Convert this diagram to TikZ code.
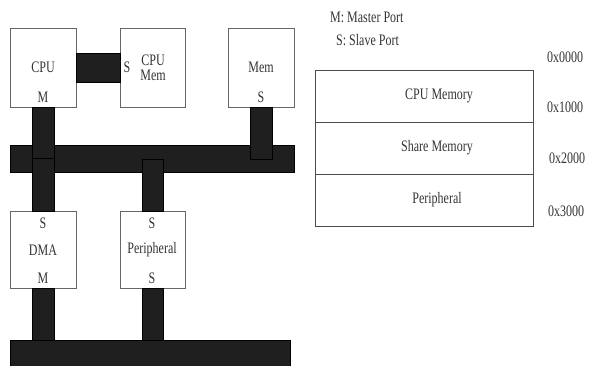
\documentclass[tikz,border=0pt]{standalone}
\usepackage{fontspec}
\setmainfont[FakeStretch=0.75]{Liberation Serif}
\usetikzlibrary{calc}

\tikzset{
  unit/.style={draw=black!60, fill=white, thin, minimum width=66pt,
    minimum height=79pt, inner sep=0pt, text=black!80},
  bus/.style={draw=black, fill=black!88, thin, inner sep=0pt},
  wire/.style={draw=black, fill=black!88, thin},
  region/.style={draw=black!70, thin, minimum width=218pt,
    minimum height=52pt, inner sep=0pt},
  txt/.style={text=black!80, inner sep=0pt}
}

\begin{document}
\begin{tikzpicture}[x=1pt, y=-1pt, font=\fontsize{16}{18}\selectfont]
  \useasboundingbox (0,0) rectangle (590,365);

  % ---- the two buses ----
  \node[bus, minimum width=284pt, minimum height=27pt] (topbus) at (152,158.5) {};
  \node[bus, minimum width=280pt, minimum height=27pt] (botbus) at (150,353.5) {};

  % ---- blocks ----
  \node[unit] (cpu)    at (43,67.5)    {};
  \node[unit, minimum width=65pt] (cpumem) at (152.5,67.5) {};
  \node[unit] (mem)    at (261,67.5)   {};
  \node[unit, minimum height=77pt] (dma)    at (43,249.5)   {};
  \node[unit, minimum width=65pt, minimum height=77pt] (periph) at (152.5,249.5) {};

  % ---- port links ----
  \draw[wire] ($(cpu.east)+(0,-14.5)$) rectangle ($(cpumem.west)+(0,14.5)$);
  % cpu down to the bus, bus down to the dma
  \draw[wire] ($(cpu.south)+(-11,0)$) rectangle ($(cpu.south |- topbus.center)+(11,0)$);
  \draw[wire] ($(dma.north |- topbus.center)+(-11,0)$) rectangle ($(dma.north)+(11,0)$);
  \draw[wire] ($(mem.south)+(-11,0)$) rectangle ($(mem.south |- topbus.center)+(11,0.5)$);
  \draw[wire] ($(periph.north |- topbus.center)+(-10.5,0.5)$) rectangle ($(periph.north)+(10.5,0)$);
  % lower links to the second bus
  \draw[wire] ($(dma.south)+(-11,0)$) rectangle ($(dma.south |- botbus.north)+(11,0)$);
  \draw[wire] ($(periph.south)+(-10.5,0)$) rectangle ($(periph.south |- botbus.north)+(10.5,0)$);

  % ---- block texts ----
  \node[txt] (cpuname) at (43,67) {CPU};
  \node[txt] (cpuport) at (43,97) {M};
  \node[txt] (cpumemport) at (127,67) {S};
  \node[txt, align=center] (cpumemname) at (153,67.5) {CPU\\[-3pt]Mem};
  \node[txt] (memname) at (261,67) {Mem};
  \node[txt] (memport) at (261,97) {S};
  \node[txt] (dmatop) at (43,223) {S};
  \node[txt] (dmaname) at (43,250) {DMA};
  \node[txt] (dmabot) at (43,278) {M};
  \node[txt] (periphtop) at (152,223) {S};
  \node[txt] (periphname) at (152,250) {Peripheral};
  \node[txt] (periphbot) at (152,278) {S};

  % ---- legend ----
  \node[txt, anchor=west] (legm) at (330,17) {M: Master Port};
  \node[txt, anchor=west] (legs) at (336,40) {S: Slave Port};

  % ---- memory map ----
  \node[region, label={[txt, xshift=15pt]center:CPU Memory}] (map1) at (424,96) {};
  \node[region, label={[txt, xshift=13pt]center:Share Memory}] (map2) at (424,148) {};
  \node[region, label={[txt, xshift=13pt]center:Peripheral}] (map3) at (424,200) {};
  \node[txt] (addr0) at (565,57)  {0x0000};
  \node[txt] (addr1) at (565,107) {0x1000};
  \node[txt] (addr2) at (567,158) {0x2000};
  \node[txt] (addr3) at (566,211) {0x3000};

\end{tikzpicture}
\end{document}
